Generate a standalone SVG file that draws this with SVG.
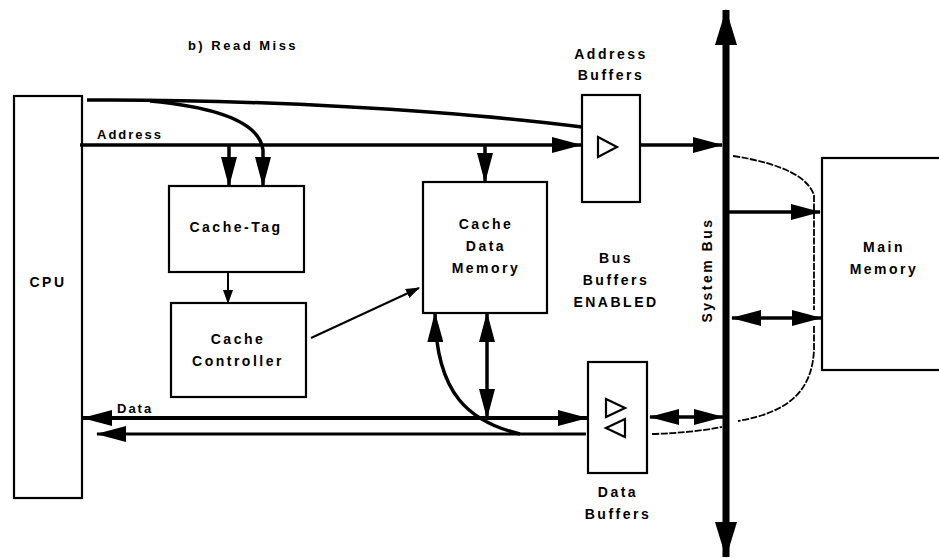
<svg xmlns="http://www.w3.org/2000/svg" width="939" height="558" viewBox="0 0 939 558">
<style>
.box{fill:#fff;stroke:#000;stroke-width:2.2}
.t{font-family:"Liberation Sans",Arial,sans-serif;font-weight:bold;font-size:14px;fill:#000;letter-spacing:2.5px;text-anchor:middle}
.l{text-anchor:start;font-size:13px;letter-spacing:2px}
.ln{fill:none;stroke:#000;stroke-width:3.5}
.thin{fill:none;stroke:#000;stroke-width:2}
.dash{fill:none;stroke:#000;stroke-width:1.8;stroke-dasharray:7 1.5}
.sym{fill:none;stroke:#000;stroke-width:2.2}
</style>
<defs>
<marker id="ah" markerUnits="userSpaceOnUse" markerWidth="30" markerHeight="16" refX="29" refY="8" orient="auto-start-reverse" viewBox="0 0 30 16">
<path d="M0,0 L30,8 L0,16 z" fill="#000"/>
</marker>
<marker id="sh" markerUnits="userSpaceOnUse" markerWidth="14" markerHeight="10" refX="13" refY="5" orient="auto-start-reverse" viewBox="0 0 14 10">
<path d="M0,0 L14,5 L0,10 z" fill="#000"/>
</marker>
<marker id="bh" markerUnits="userSpaceOnUse" markerWidth="36" markerHeight="22" refX="35" refY="11" orient="auto-start-reverse" viewBox="0 0 36 22">
<path d="M0,0 L36,11 L0,22 z" fill="#000"/>
</marker>
</defs>

<text class="t" x="243" y="50" style="font-size:13px">b) Read Miss</text>

<g id="cpu">
<rect class="box" x="14" y="96" width="68" height="402"/>
<text class="t" x="48" y="287">CPU</text>
</g>

<g id="cache-tag">
<rect class="box" x="169" y="186" width="135" height="86"/>
<text class="t" x="236" y="232">Cache-Tag</text>
</g>

<g id="cache-controller">
<rect class="box" x="171" y="303" width="135" height="94"/>
<text class="t" x="238" y="344">Cache</text>
<text class="t" x="238" y="366">Controller</text>
</g>

<g id="cache-data-memory">
<rect class="box" x="423" y="182" width="124" height="131"/>
<text class="t" x="486" y="229">Cache</text>
<text class="t" x="486" y="251">Data</text>
<text class="t" x="486" y="273">Memory</text>
</g>

<g id="address-buffers">
<rect class="box" x="582" y="95" width="58" height="107"/>
<path class="sym" d="M598,137 L617,147 L598,157 z"/>
<text class="t" x="611" y="59">Address</text>
<text class="t" x="611" y="80">Buffers</text>
</g>

<g id="data-buffers">
<rect class="box" x="588" y="362" width="59" height="111"/>
<path class="sym" d="M606,399 L625,408 L606,417 z"/>
<path class="sym" d="M625,419 L606,428 L625,437 z"/>
<text class="t" x="618" y="497">Data</text>
<text class="t" x="618" y="519">Buffers</text>
</g>

<g id="bus-buffers-label">
<text class="t" x="616" y="263">Bus</text>
<text class="t" x="616" y="285">Buffers</text>
<text class="t" x="616" y="307">ENABLED</text>
</g>

<g id="system-bus">
<line x1="726" y1="10" x2="726" y2="557" stroke="#000" stroke-width="7" marker-start="url(#bh)" marker-end="url(#bh)"/>
<text class="t" transform="translate(712,270) rotate(-90)">System Bus</text>
</g>

<g id="main-memory">
<rect class="box" x="822" y="158" width="140" height="212"/>
<text class="t" x="884" y="252">Main</text>
<text class="t" x="884" y="274">Memory</text>
</g>

<g id="connectors">
<path class="ln" d="M87,100 C250,99 450,110 582,127"/>
<path class="ln" d="M80,145 H581" marker-end="url(#ah)"/>
<text class="t l" x="97" y="139">Address</text>
<path class="ln" d="M229,145 V186" marker-end="url(#ah)"/>
<path class="ln" d="M150,101 C225,108 260,125 263,150 L263,186" marker-end="url(#ah)"/>
<path class="ln" d="M485,145 V182" marker-end="url(#ah)"/>
<path class="ln" d="M640,145 H722" marker-end="url(#ah)"/>
<path class="thin" d="M228,272 V303" marker-end="url(#sh)"/>
<path class="thin" d="M311,338 L419,288" marker-end="url(#sh)"/>
<path class="ln" d="M729,212 H820" marker-end="url(#ah)"/>
<path class="ln" d="M732,318 H821" marker-start="url(#ah)" marker-end="url(#ah)"/>
<path class="dash" d="M733,156 C785,164 808,178 814,195 L814,310"/>
<path class="dash" d="M814,326 L814,350 C812,390 790,412 738,421"/>
<path class="ln" style="stroke-width:4" d="M587,418 H83" marker-start="url(#ah)" marker-end="url(#ah)"/>
<text class="t l" x="117" y="413">Data</text>
<path class="ln" style="stroke-width:3" d="M586,434 H97" marker-end="url(#ah)"/>
<path class="ln" d="M520,434 C470,422 436,395 435,313" marker-end="url(#ah)"/>
<path class="ln" d="M487,313 V418" marker-start="url(#ah)" marker-end="url(#ah)"/>
<path class="ln" d="M650,417 H687" marker-start="url(#ah)"/>
<path class="ln" d="M687,417 H723" marker-end="url(#ah)"/>
<path class="dash" d="M652,434 Q690,433 722,427"/>
</g>
</svg>
